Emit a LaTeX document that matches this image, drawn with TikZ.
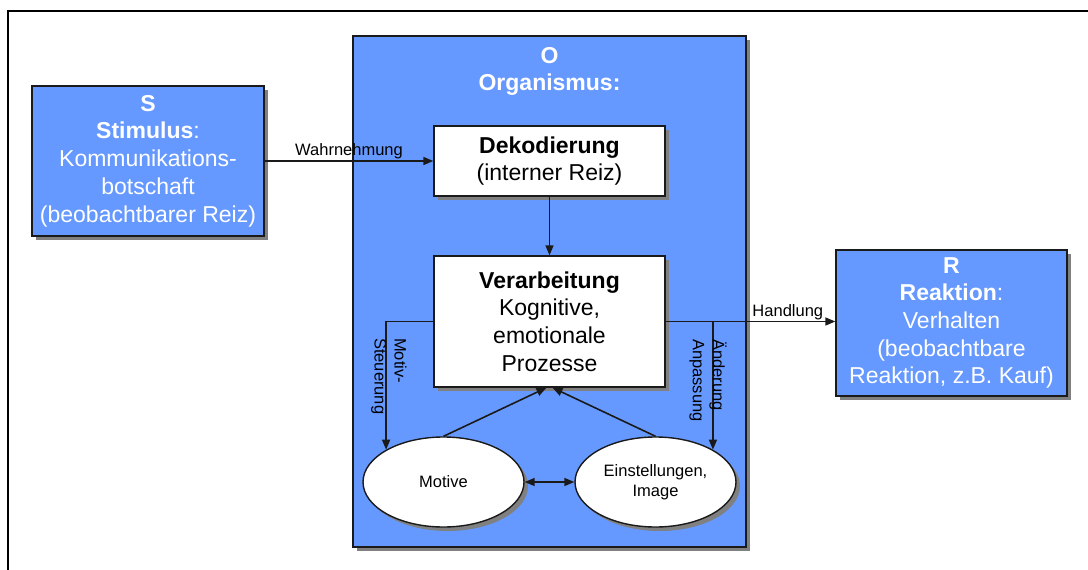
\documentclass[tikz,border=0pt]{standalone}
\usepackage{fontspec}
\setmainfont{Liberation Sans}
\usetikzlibrary{arrows.meta,shadows,shapes.geometric}
\definecolor{boxblue}{HTML}{6699FF}
\definecolor{edgecol}{HTML}{1A1A1A}
\newcommand\mainfs{\fontsize{23}{27.7}\selectfont}
\newcommand\smallfs{\fontsize{16.5}{20}\selectfont}
\begin{document}
\begin{tikzpicture}[x=1pt,y=-1pt,
  shad/.style={drop shadow={shadow xshift=4pt,shadow yshift=-4pt,opacity=1,fill=black!50}},
  bluebox/.style={rectangle,draw=edgecol,line width=1.4pt,fill=boxblue,text=white,align=center,inner sep=0pt,font=\mainfs,shad},
  whitebox/.style={rectangle,draw=edgecol,line width=1.4pt,fill=white,text=black,align=center,inner sep=0pt,font=\mainfs,shad},
  oval/.style={ellipse,draw=edgecol,line width=1.4pt,fill=white,text=black,align=center,inner sep=0pt,minimum width=161pt,minimum height=90pt,font=\smallfs,shad},
  arr/.style={line width=1.6pt,draw=edgecol,-{Triangle[length=10pt,width=8pt]}},
  darr/.style={line width=1.6pt,draw=edgecol,{Triangle[length=10pt,width=8pt]}-{Triangle[length=10pt,width=8pt]}},
  lbl/.style={font=\smallfs,text=black,inner sep=1pt}]
\useasboundingbox (0,0) rectangle (1088,570);
\fill[white] (0,0) rectangle (1088,570);
\draw[line width=2.2pt] (7.8,572) -- (7.8,11) -- (1090,11);

% boxes
\node[bluebox,minimum width=232pt,minimum height=150pt] (S) at (148,161)
  {\textbf{S}\\\textbf{Stimulus}:\\Kommunikations-\\botschaft\\(beobachtbarer Reiz)};
\node[bluebox,minimum width=393pt,minimum height=511pt] (O) at (549.5,291.5) {};
\node[font=\mainfs,text=white,align=center,inner sep=0pt] (Otitle) at (549.5,71.5)
  {\textbf{O}\\\textbf{Organismus:}};
\node[bluebox,minimum width=231pt,minimum height=146pt] (R) at (951.5,323)
  {\textbf{R}\\\textbf{Reaktion}:\\Verhalten\\(beobachtbare\\Reaktion, z.B. Kauf)};
\node[whitebox,minimum width=231pt,minimum height=70pt] (dek) at (549.5,161)
  {\textbf{Dekodierung}\\(interner Reiz)};
\node[whitebox,minimum width=231pt,minimum height=131pt] (ver) at (549.5,321.5)
  {\textbf{Verarbeitung}\\Kognitive,\\emotionale\\Prozesse};
\node[oval] (mot) at (443.5,482) {Motive};
\node[oval] (ein) at (655.5,482) {Einstellungen,\\Image};

% connectors
\draw[arr] (S.east) -- node[lbl,above] {Wahrnehmung} (dek.west);
\draw[arr] (dek.south) -- (ver.north);
\draw[arr] (ver.east) -- node[lbl,above,pos=0.72] {Handlung} (ver.east -| R.west);
\draw[arr] (ver.west) -| (mot.north west);
\draw[arr] (ver.east) -| (ein.north east);
\draw[arr] (mot.north) -- ([xshift=-3pt]ver.south);
\draw[arr] (ein.north) -- ([xshift=3pt]ver.south);
\draw[darr] (mot.east) -- (ein.west);

% rotated labels
\node[lbl,rotate=-90,anchor=west,align=left,inner sep=0pt] (msl) at (389,338) {Motiv-\\Steuerung};
\node[lbl,rotate=-90,anchor=west,align=left,inner sep=0pt] (aal) at (708,339) {Änderung\\Anpassung};
\end{tikzpicture}
\end{document}
